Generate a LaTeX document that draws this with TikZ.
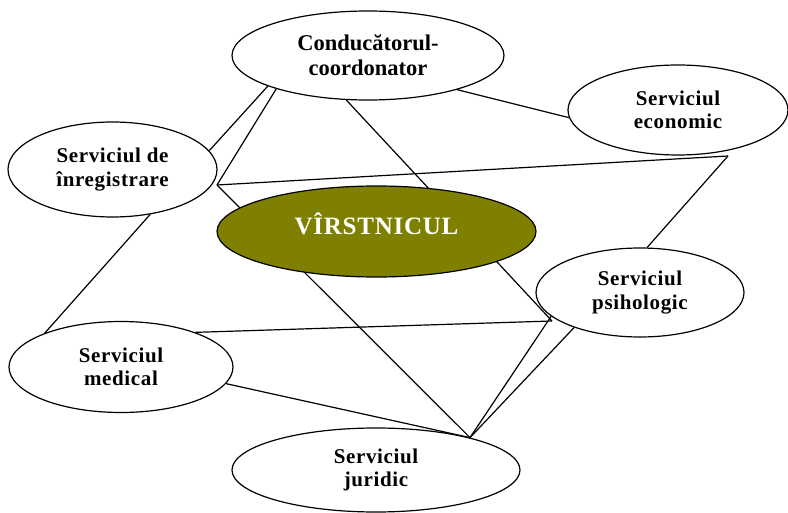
\documentclass[tikz,border=0pt]{standalone}
\usepackage{fontspec}
\setmainfont{Liberation Serif}
\newfontfamily\spaced[LetterSpace=3]{Liberation Serif}
\usepackage{tikz}
\usetikzlibrary{shapes.geometric,backgrounds}
\definecolor{olive}{HTML}{808000}

\begin{document}
\begin{tikzpicture}[
  x=1pt,y=-1pt,
  svc/.style={ellipse,draw=black,fill=white,line width=1.2pt,inner sep=0pt,align=center,font=\fontsize{21}{23.5}\selectfont\spaced\bfseries},
  core/.style={svc,fill=olive,text=white,font=\fontsize{25}{28}\selectfont\spaced\bfseries},
  lnk/.style={line width=1.2pt,draw=black}
]
\useasboundingbox (0,0) rectangle (788,513);
\node[svc,minimum width=272pt,minimum height=89pt,font=\fontsize{22.5}{25}\selectfont\bfseries] (cond) at (368,55.5) {Conducătorul-\\coordonator};
\node[svc,minimum width=220pt,minimum height=90pt] (econ) at (678,110) {Serviciul\\economic};
\node[svc,minimum width=209pt,minimum height=95pt] (inreg) at (112.5,169.5) {Serviciul de\\înregistrare};
\node[core,minimum width=319pt,minimum height=91pt] (virst) at (376.5,231.5) {\raisebox{8pt}[\height][\depth]{VÎRSTNICUL}};
\node[svc,minimum width=208pt,minimum height=89pt] (psih) at (640,292.5) {Serviciul\\psihologic};
\node[svc,minimum width=224pt,minimum height=91pt] (med) at (121,367) {Serviciul\\medical};
\node[svc,minimum width=288pt,minimum height=84pt] (jur) at (376,470) {Serviciul\\juridic};

% corner points where several links meet
\coordinate (iv) at (217,185);
\coordinate (ev) at (728,156);
\coordinate (pv) at (552,321);

\begin{scope}[on background layer]
\draw[lnk] (cond.339) -- (econ.184);
\draw[lnk] (cond.197) -- (inreg.11);
\draw[lnk] (cond.200) -- (iv);
\draw[lnk] (iv) -- (ev);
\draw[lnk] (iv) -- (jur.19);
\draw[lnk] (cond.244) -- (pv);
\draw[lnk] (med.25) -- (pv);
\draw[lnk] (psih.195) -- (jur.19);
\draw[lnk] (psih.208) -- (jur.19);
\draw[lnk] (psih.81) -- (ev);
\draw[lnk] (inreg.310) -- (med.156);
\draw[lnk] (med.351) -- (jur.19);
\end{scope}
\end{tikzpicture}
\end{document}
